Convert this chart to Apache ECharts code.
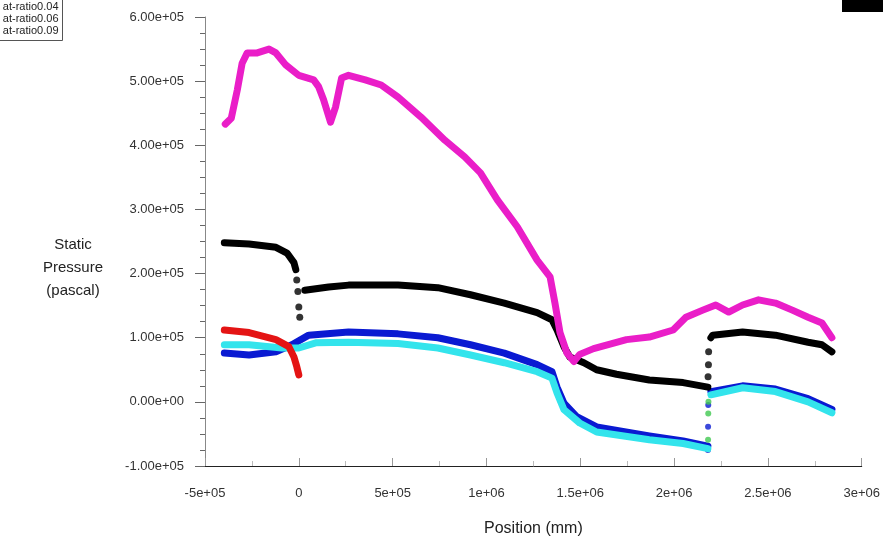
<!DOCTYPE html>
<html>
<head>
<meta charset="utf-8">
<script src="https://cdn.jsdelivr.net/npm/echarts@6/dist/echarts.min.js"></script>
<style>
  html, body { margin: 0; padding: 0; background: #fff; }
  #chart { width: 883px; height: 545px; }
</style>
</head>
<body>
<div id="chart"></div>
<script>
// Axis tick labels (Fluent-style exponent formatting)
const xTickLabels = ['-5e+05', '0', '5e+05', '1e+06', '1.5e+06', '2e+06', '2.5e+06', '3e+06'];
const yTickLabels = ['-1.00e+05', '0.00e+00', '1.00e+05', '2.00e+05', '3.00e+05', '4.00e+05', '5.00e+05', '6.00e+05'];
const legendNames = ['at-ratio0.04', 'at-ratio0.06', 'at-ratio0.09'];
const yTitle = 'Static\nPressure\n(pascal)';

// Static pressure along the duct: [position (mm), pressure (Pa)]
const magenta = [
  [-3.92e5, 4.33e5], [-3.60e5, 4.42e5], [-3.28e5, 4.86e5], [-3.02e5, 5.28e5], [-2.75e5, 5.44e5],
  [-2.22e5, 5.44e5], [-1.59e5, 5.50e5], [-1.22e5, 5.44e5], [-0.69e5, 5.25e5], [0, 5.09e5],
  [0.79e5, 5.02e5], [1.06e5, 4.91e5], [1.32e5, 4.71e5], [1.69e5, 4.36e5], [1.96e5, 4.60e5],
  [2.28e5, 5.05e5], [2.65e5, 5.09e5], [3.54e5, 5.02e5], [4.39e5, 4.94e5], [5.29e5, 4.75e5],
  [6.51e5, 4.44e5], [7.78e5, 4.08e5], [8.84e5, 3.82e5], [9.68e5, 3.57e5], [1.058e6, 3.15e5],
  [1.164e6, 2.73e5], [1.270e6, 2.21e5], [1.339e6, 1.95e5], [1.365e6, 1.54e5], [1.392e6, 1.08e5],
  [1.429e6, 0.76e5], [1.466e6, 0.63e5], [1.497e6, 0.74e5], [1.571e6, 0.83e5], [1.746e6, 0.97e5],
  [1.868e6, 1.01e5], [1.995e6, 1.12e5], [2.063e6, 1.32e5], [2.153e6, 1.43e5], [2.222e6, 1.51e5],
  [2.291e6, 1.40e5], [2.365e6, 1.51e5], [2.450e6, 1.59e5], [2.540e6, 1.54e5], [2.630e6, 1.43e5],
  [2.714e6, 1.32e5], [2.788e6, 1.23e5], [2.841e6, 1.00e5]
];

const blackInlet = [
  [-3.97e5, 2.48e5], [-2.65e5, 2.46e5], [-1.22e5, 2.41e5], [-0.63e5, 2.32e5], [-0.26e5, 2.17e5],
  [-0.16e5, 2.06e5]
];
const blackInletDrop = [[-0.11e5, 1.90e5], [-0.05e5, 1.72e5], [0, 1.48e5], [0.05e5, 1.32e5]];
const blackMid = [
  [0.32e5, 1.74e5], [1.59e5, 1.79e5], [2.65e5, 1.82e5], [5.29e5, 1.82e5], [7.41e5, 1.78e5],
  [9.15e5, 1.67e5], [1.095e6, 1.54e5], [1.270e6, 1.39e5], [1.349e6, 1.28e5], [1.376e6, 1.12e5],
  [1.413e6, 0.86e5], [1.444e6, 0.70e5], [1.519e6, 0.61e5], [1.587e6, 0.50e5], [1.693e6, 0.43e5],
  [1.868e6, 0.34e5], [2.048e6, 0.30e5], [2.180e6, 0.23e5]
];
const blackJump = [[2.181e6, 0.39e5], [2.183e6, 0.58e5], [2.184e6, 0.78e5]];
const blackOutlet = [
  [2.196e6, 1.00e5], [2.206e6, 1.04e5], [2.365e6, 1.09e5], [2.540e6, 1.04e5], [2.714e6, 0.93e5],
  [2.788e6, 0.89e5], [2.841e6, 0.78e5]
];

const red = [
  [-3.97e5, 1.12e5], [-2.65e5, 1.08e5], [-1.22e5, 0.97e5], [-0.53e5, 0.86e5], [-0.26e5, 0.70e5],
  [-0.11e5, 0.55e5], [0, 0.42e5]
];

const blueMain = [
  [-3.97e5, 0.76e5], [-2.65e5, 0.73e5], [-1.22e5, 0.78e5], [-0.37e5, 0.89e5], [0.53e5, 1.04e5],
  [2.65e5, 1.09e5], [5.29e5, 1.06e5], [7.41e5, 1.00e5], [9.15e5, 0.89e5], [1.095e6, 0.76e5],
  [1.270e6, 0.58e5], [1.349e6, 0.47e5], [1.376e6, 0.23e5], [1.413e6, -0.02e5], [1.481e6, -0.23e5],
  [1.587e6, -0.39e5], [1.868e6, -0.53e5], [2.048e6, -0.61e5], [2.180e6, -0.69e5]
];
const blueOutlet = [
  [2.196e6, 0.16e5], [2.365e6, 0.25e5], [2.540e6, 0.20e5], [2.714e6, 0.05e5], [2.841e6, -0.12e5]
];
const blueJump = [[2.180e6, -0.75e5], [2.181e6, -0.39e5], [2.182e6, -0.05e5]];
const greenJump = [[2.181e6, -0.59e5], [2.182e6, -0.18e5], [2.183e6, 0.0e5]];

const cyanMain = [
  [-3.97e5, 0.89e5], [-2.65e5, 0.89e5], [-0.90e5, 0.84e5], [0, 0.84e5], [0.90e5, 0.92e5],
  [2.65e5, 0.93e5], [5.29e5, 0.91e5], [7.41e5, 0.84e5], [9.15e5, 0.73e5], [1.095e6, 0.61e5],
  [1.270e6, 0.47e5], [1.349e6, 0.37e5], [1.376e6, 0.14e5], [1.413e6, -0.12e5], [1.497e6, -0.33e5],
  [1.587e6, -0.47e5], [1.868e6, -0.59e5], [2.048e6, -0.65e5], [2.180e6, -0.73e5]
];
const cyanOutlet = [
  [2.196e6, 0.11e5], [2.365e6, 0.22e5], [2.540e6, 0.16e5], [2.714e6, 0.0e5], [2.841e6, -0.17e5]
];

const FONT = '"Liberation Sans", Arial, sans-serif';
const X_MIN = -5e5, X_STEP = 5e5, Y_MIN = -1e5, Y_STEP = 1e5;

function curve(data, color, width, z) {
  return {
    type: 'line', data: data, z: z, showSymbol: false, silent: true,
    lineStyle: { color: color, width: width, cap: 'round', join: 'round' }
  };
}
function dots(data, color, size, z) {
  return {
    type: 'scatter', data: data, z: z, silent: true, symbolSize: size,
    itemStyle: { color: color }
  };
}

const chart = echarts.init(document.getElementById('chart'), null, { renderer: 'canvas' });
chart.setOption({
  animation: false,
  backgroundColor: '#fff',
  grid: { left: 205, right: 18, top: 17, bottom: 79 },
  xAxis: {
    type: 'value', min: X_MIN, max: 3e6, interval: X_STEP,
    name: 'Position (mm)', nameLocation: 'middle', nameGap: 55,
    nameTextStyle: { fontFamily: FONT, fontSize: 16, color: '#222' },
    axisLine: { onZero: false, lineStyle: { color: '#222', width: 1 } },
    axisTick: { inside: true, length: 8, lineStyle: { color: '#999' } },
    minorTick: { show: true, splitNumber: 2, length: 5, lineStyle: { color: '#bbb' } },
    splitLine: { show: false },
    axisLabel: {
      fontFamily: FONT, fontSize: 13, color: '#333', margin: 21,
      formatter: v => xTickLabels[Math.round((v - X_MIN) / X_STEP)]
    }
  },
  yAxis: {
    type: 'value', min: Y_MIN, max: 6e5, interval: Y_STEP,
    axisLine: { onZero: false, lineStyle: { color: '#888', width: 1 } },
    axisTick: { inside: false, length: 10, lineStyle: { color: '#666' } },
    minorTick: { show: true, splitNumber: 4, length: 5, lineStyle: { color: '#666' } },
    splitLine: { show: false },
    axisLabel: {
      fontFamily: FONT, fontSize: 13, color: '#333', margin: 21,
      formatter: v => yTickLabels[Math.round((v - Y_MIN) / Y_STEP)]
    }
  },
  graphic: [
    {
      type: 'text', x: 73, y: 268, silent: true,
      style: {
        text: yTitle, font: '15px ' + FONT, fill: '#222',
        align: 'center', verticalAlign: 'middle', lineHeight: 23
      }
    },
    {
      type: 'group', left: -8, top: -2, silent: true,
      children: [
        { type: 'rect', shape: { x: 0, y: 0, width: 70, height: 42 }, style: { fill: '#fff', stroke: '#555', lineWidth: 1 } },
        { type: 'text', x: 66, y: 3, style: { text: legendNames[0], font: '11px ' + FONT, fill: '#222', align: 'right' } },
        { type: 'text', x: 66, y: 15, style: { text: legendNames[1], font: '11px ' + FONT, fill: '#222', align: 'right' } },
        { type: 'text', x: 66, y: 27, style: { text: legendNames[2], font: '11px ' + FONT, fill: '#222', align: 'right' } }
      ]
    },
    { type: 'rect', right: 0, top: 0, shape: { width: 41, height: 12 }, style: { fill: '#000' }, silent: true }
  ],
  series: [
    curve(blueMain, '#0a1ad2', 7, 2),
    curve(blueOutlet, '#0a1ad2', 7, 2),
    dots(blueJump, '#0a1ad2', 6, 3),
    dots(greenJump, '#40c850', 6, 3),
    curve(cyanMain, '#33e4ec', 7, 4),
    curve(cyanOutlet, '#33e4ec', 7, 4),
    curve(red, '#e41414', 7, 5),
    curve(blackInlet, '#000', 7, 6),
    dots(blackInletDrop, '#000', 7, 6),
    curve(blackMid, '#000', 7, 6),
    dots(blackJump, '#000', 7, 6),
    curve(blackOutlet, '#000', 7, 6),
    curve(magenta, '#ea1ec8', 7, 7)
  ]
});
</script>
</body>
</html>
